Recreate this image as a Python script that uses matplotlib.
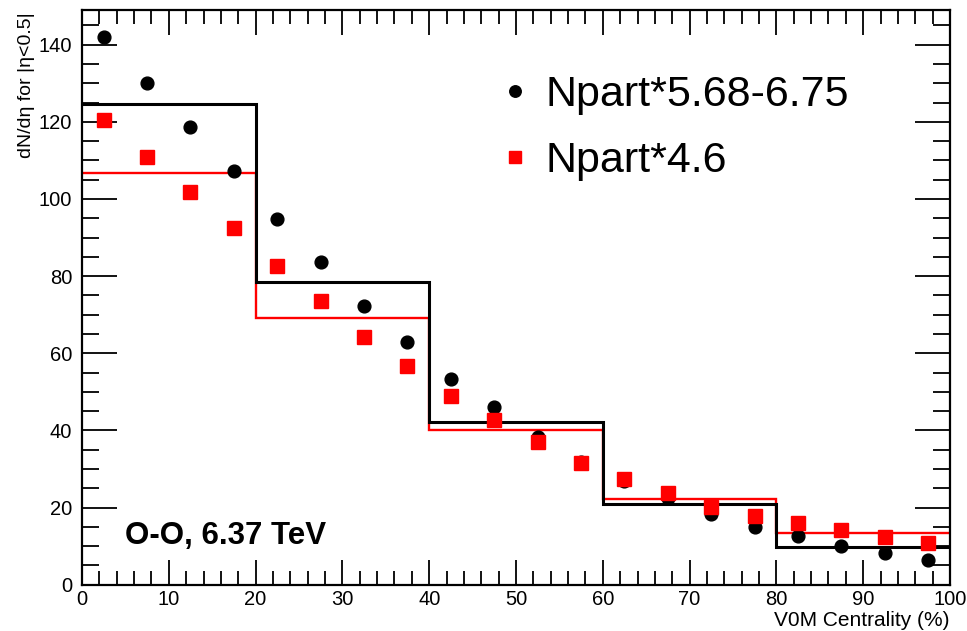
import numpy as np
import matplotlib.pyplot as plt
from matplotlib.ticker import MultipleLocator

plt.rcParams['font.family'] = ['Liberation Sans', 'DejaVu Sans']

# centrality bin centres (%) for the points
centrality = np.arange(2.5, 100, 5.0)

# dN/deta estimates per 5% bin
npart_568_675 = [142.1, 130.0, 118.6, 107.3, 94.9, 83.7, 72.2, 62.9, 53.3, 46.1,
                 38.4, 31.8, 26.8, 22.4, 18.4, 14.9, 12.5, 10.1, 8.3, 6.4]
npart_46 = [120.5, 111.0, 101.8, 92.4, 82.6, 73.5, 64.3, 56.8, 49.0, 42.8,
            36.9, 31.5, 27.5, 23.7, 20.1, 17.8, 15.9, 14.2, 12.3, 10.9]

# wide 20% bins drawn as histograms
wide_edges = [0, 20, 40, 60, 80, 100]
wide_black = [124.7, 78.4, 42.3, 20.9, 9.8]
wide_red = [106.7, 69.2, 40.2, 22.3, 13.5]

fig = plt.figure(figsize=(9.67, 6.31), dpi=100)
ax = fig.add_axes([0.0848, 0.0734, 0.8976, 0.9108])

ax.stairs(wide_red, wide_edges, baseline=None, color='#ff0000', lw=1.7, zorder=2)
ax.stairs(wide_black, wide_edges, baseline=None, color='black', lw=2.2, zorder=3)

ax.plot(centrality, npart_568_675, 'o', color='black', ms=9.2, ls='none', zorder=4,
        label='Npart*5.68-6.75')
ax.plot(centrality, npart_46, 's', color='#ff0000', ms=9.5, ls='none', zorder=5,
        label='Npart*4.6')

ax.set_xlim(0, 100)
ax.set_ylim(0, 149)

ax.xaxis.set_major_locator(MultipleLocator(10))
ax.xaxis.set_minor_locator(MultipleLocator(2))
ax.yaxis.set_major_locator(MultipleLocator(20))
ax.yaxis.set_minor_locator(MultipleLocator(5))
ax.tick_params(axis='x', which='major', direction='in', length=18, width=1.3,
               top=True, labelsize=14.5, pad=4)
ax.tick_params(axis='x', which='minor', direction='in', length=10, width=1.3, top=True)
ax.tick_params(axis='y', which='major', direction='in', length=25, width=1.3,
               right=True, labelsize=14.5, pad=7)
ax.tick_params(axis='y', which='minor', direction='in', length=12.5, width=1.3, right=True)
for s in ax.spines.values():
    s.set_linewidth(1.6)

leg = ax.legend(loc='upper left', bbox_to_anchor=(0.425, 0.955), frameon=False,
                fontsize=31, handletextpad=0.1, labelspacing=0.62, handlelength=1.2,
                markerscale=0.9)

ax.text(0.05, 0.085, 'O-O, 6.37 TeV', transform=ax.transAxes, fontsize=22.5,
        fontweight='bold', va='center', ha='left')

fig.text(27 / 967, 1 - 12 / 631, 'dN/dη for |η<0.5|', rotation=90, ha='center',
         va='top', fontsize=14)
fig.text(950 / 967, 1 - 620 / 631, 'V0M Centrality (%)', ha='right', va='center',
         fontsize=15)

fig.savefig('out.png', dpi=100)
